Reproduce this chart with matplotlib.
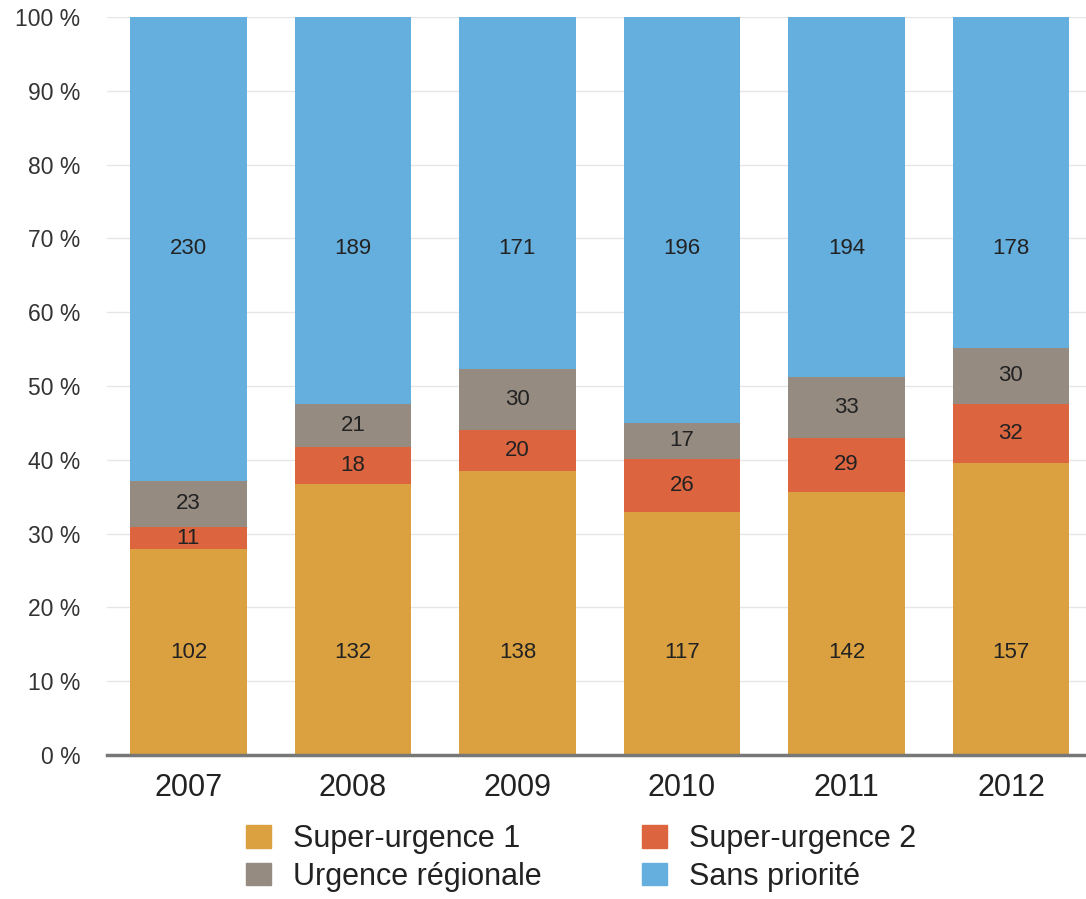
import numpy as np
import matplotlib.pyplot as plt
from matplotlib.patches import Patch

plt.rcParams["font.family"] = ["Liberation Sans", "DejaVu Sans"]

# Données (nombre de cas par année et par priorité)
years = ["2007", "2008", "2009", "2010", "2011", "2012"]
super_urgence_1 = [102, 132, 138, 117, 142, 157]
super_urgence_2 = [11, 18, 20, 26, 29, 32]
urgence_regionale = [23, 21, 30, 17, 33, 30]
sans_priorite = [230, 189, 171, 196, 194, 178]

series_names = ["Super-urgence 1", "Super-urgence 2", "Urgence régionale", "Sans priorité"]
colors = ["#dba140", "#dc6540", "#958b81", "#65afdf"]

counts = np.array([super_urgence_1, super_urgence_2, urgence_regionale, sans_priorite], dtype=float)
pct = counts / counts.sum(axis=0) * 100

fig = plt.figure(figsize=(10.86, 8.99), dpi=100)
ax = fig.add_axes([0.0985, 0.1602, 0.9015, 0.8209])

x = np.arange(len(years))
bottom = np.zeros(len(years))
for i in range(len(series_names)):
    ax.bar(x, pct[i], 0.71, bottom=bottom, color=colors[i], zorder=2)
    for j in range(len(years)):
        # l'original aligne les étiquettes de la 1re et dernière série sur celles de 2007
        if i == 0 or i == len(series_names) - 1:
            ypos = bottom[0] + pct[i][0] / 2
        else:
            ypos = bottom[j] + pct[i][j] / 2
        ax.text(x[j], ypos, f"{int(counts[i][j])}",
                ha="center", va="center", fontsize=16, color="#222222", zorder=3)
    bottom += pct[i]

ax.set_xlim(-0.495, 5.456)
ax.set_ylim(0, 100)
ax.set_yticks(np.arange(0, 101, 10))
ax.set_yticklabels([f"{v} %" for v in range(0, 101, 10)])
ax.set_xticks(x)
ax.set_xticklabels(years)
ax.tick_params(axis="y", length=0, pad=19, labelsize=16.5, labelcolor="#333333")
ax.tick_params(axis="x", length=0, pad=13, labelsize=22, labelcolor="#222222")

ax.grid(axis="y", color="#e6e6e6", linewidth=1, zorder=0)
for s in ["top", "right", "left"]:
    ax.spines[s].set_visible(False)
ax.spines["bottom"].set_color("#777777")
ax.spines["bottom"].set_linewidth(2.5)
ax.spines["bottom"].set_zorder(4)

handles = [Patch(color=c) for c in colors]
order = [0, 2, 1, 3]
fig.legend([handles[k] for k in order], [series_names[k] for k in order],
           ncol=2, loc="center", bbox_to_anchor=(0.535, 0.0456), frameon=False,
           fontsize=22, handlelength=0.8, handleheight=0.75, handletextpad=0.72,
           columnspacing=3.3, labelspacing=0.24, labelcolor="#222222")

fig.savefig("out.png", dpi=100)
